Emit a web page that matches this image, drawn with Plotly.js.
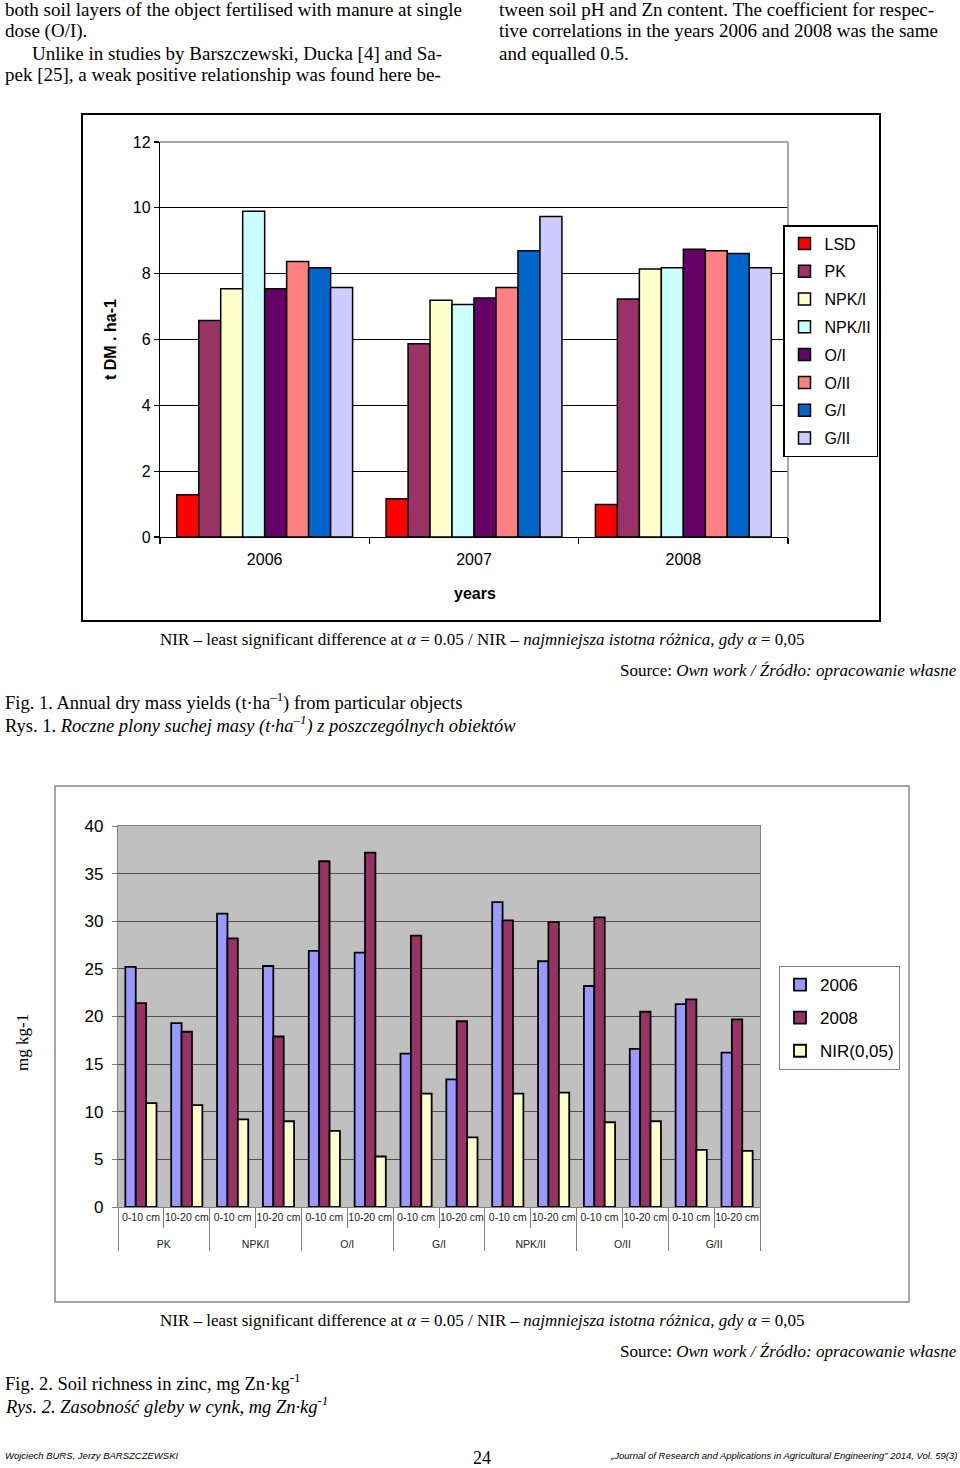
<!DOCTYPE html>
<html>
<head>
<meta charset="utf-8">
<script src="https://cdn.plot.ly/plotly-3.0.1.min.js"></script>
<style>
html,body{margin:0;padding:0;background:#fff;}
#chart{width:960px;height:1468px;}
</style>
</head>
<body>
<div id="chart"></div>
<script>
// ---------- Fig. 1 data ----------
const years = ['2006', '2007', '2008'];
const objects1 = ['LSD', 'PK', 'NPK/I', 'NPK/II', 'O/I', 'O/II', 'G/I', 'G/II'];
const yieldLSD   = [1.28, 1.16, 0.99];
const yieldPK    = [6.58, 5.87, 7.23];
const yieldNPKI  = [7.54, 7.19, 8.14];
const yieldNPKII = [9.90, 7.06, 8.18];
const yieldOI    = [7.54, 7.26, 8.74];
const yieldOII   = [8.37, 7.58, 8.70];
const yieldGI    = [8.18, 8.70, 8.61];
const yieldGII   = [7.58, 9.74, 8.18];
const yieldTicks = [0, 2, 4, 6, 8, 10, 12];

// ---------- Fig. 2 data ----------
const objects2 = ['PK', 'NPK/I', 'O/I', 'G/I', 'NPK/II', 'O/II', 'G/II'];
const layers = ['0-10 cm', '10-20 cm'];
const zn2006 = [25.2, 19.3, 30.8, 25.3, 26.9, 26.7, 16.1, 13.4, 32.0, 25.8, 23.2, 16.6, 21.3, 16.2];
const zn2008 = [21.4, 18.4, 28.2, 17.9, 36.3, 37.2, 28.5, 19.5, 30.1, 29.9, 30.4, 20.5, 21.8, 19.7];
const znNIR  = [10.9, 10.7, 9.2, 9.0, 8.0, 5.3, 11.9, 7.3, 11.9, 12.0, 8.9, 9.0, 6.0, 5.9];
const znSeriesNames = ['2006', '2008', 'NIR(0,05)'];
const znTicks = [0, 5, 10, 15, 20, 25, 30, 35, 40];

// ---------- styles ----------
const W = 960, H = 1468;
const X = p => p / W;
const Y = p => 1 - p / H;
const SANS = 'Liberation Sans, Arial, sans-serif';
const SERIF = 'Liberation Serif, Times New Roman, serif';
const colors1 = ['#FF0000', '#993366', '#FFFFCC', '#CCFFFF', '#660066', '#FF8080', '#0066CC', '#CCCCFF'];
const colors2 = ['#9999FF', '#993366', '#FFFFCC'];

const series1 = [yieldLSD, yieldPK, yieldNPKI, yieldNPKII, yieldOI, yieldOII, yieldGI, yieldGII];
const traces = [];
objects1.forEach((name, i) => {
  traces.push({
    type: 'bar', name: name, x: years, y: series1[i],
    xaxis: 'x', yaxis: 'y', legend: 'legend', legendgroup: 'a' + i,
    marker: {color: colors1[i], line: {color: '#000', width: 1.5}},
    hoverinfo: 'x+y+name'
  });
});

// multicategory x: outer = object, inner = soil layer (an empty 2nd line adds spacing to the outer row)
const xGroups = [], xLayers = [];
objects2.forEach(o => layers.forEach(l => { xGroups.push(o); xLayers.push(l + '<br>\u00a0'); }));
const series2 = [zn2006, zn2008, znNIR];
const groupW = 0.68, bw = groupW / 3;
series2.forEach((vals, i) => {
  traces.push({
    type: 'bar', name: znSeriesNames[i], x: [xGroups, xLayers], y: vals,
    xaxis: 'x2', yaxis: 'y2', legend: 'legend2', legendgroup: 'b' + i,
    width: bw, offset: -groupW / 2 + i * bw,
    marker: {color: colors2[i], line: {color: '#000', width: 1.8}},
    hoverinfo: 'y+name'
  });
});

function ann(text, x, y, opts) {
  return Object.assign({
    text: text, x: X(x), y: Y(y), xref: 'paper', yref: 'paper',
    xanchor: 'left', yanchor: 'middle', showarrow: false,
    font: {family: SERIF, size: 19, color: '#000'}
  }, opts || {});
}

const nirText = 'NIR – least significant difference at <i>α</i> = 0.05 / NIR – <i>najmniejsza istotna różnica, gdy α</i> = 0,05';
const srcText = 'Source: <i>Own work / Źródło: opracowanie własne</i>';
const capFont = {family: SERIF, size: 17, color: '#000'};
const figFont = {family: SERIF, size: 18.5, color: '#000'};

const annotations = [
  ann('both soil layers of the object fertilised with manure at single', 3, 9),
  ann('dose (O/I).', 3, 31),
  ann('Unlike in studies by Barszczewski, Ducka [4] and Sa-', 30, 53),
  ann('pek [25], a weak positive relationship was found here be-', 3, 75),
  ann('tween soil pH and Zn content. The coefficient for respec-', 497, 9),
  ann('tive correlations in the years 2006 and 2008 was the same', 497, 31),
  ann('and equalled 0.5.', 497, 53),
  // Fig 1 axis titles
  ann('<b>t DM . ha-1</b>', 111, 340, {xanchor: 'center', textangle: -90, font: {family: SANS, size: 16, color: '#000'}}),
  ann('<b>years</b>', 475, 593, {xanchor: 'center', font: {family: SANS, size: 16, color: '#000'}}),
  // Fig 1 captions
  ann(nirText, 482, 639, {xanchor: 'center', font: capFont}),
  ann(srcText, 959, 670, {xanchor: 'right', font: capFont}),
  ann('Fig. 1. Annual dry mass yields (t·ha<sup>–1</sup>) from particular objects', 3, 701, {font: figFont}),
  ann('Rys. 1. <i>Roczne plony suchej masy (t·ha<sup>–1</sup>) z poszczególnych obiektów</i>', 3, 724, {font: figFont}),
  // Fig 2 axis title
  ann('mg kg-1', 22, 1043, {xanchor: 'center', textangle: -90, font: {family: SERIF, size: 17, color: '#000'}}),
  // Fig 2 captions
  ann(nirText, 482, 1320, {xanchor: 'center', font: capFont}),
  ann(srcText, 959, 1351, {xanchor: 'right', font: capFont}),
  ann('Fig. 2. Soil richness in zinc, mg Zn·kg<sup>-1</sup>', 3, 1382, {font: figFont}),
  ann('<i>Rys. 2. Zasobność gleby w cynk, mg Zn·kg<sup>-1</sup></i>', 3, 1405, {font: figFont}),
  // footer
  ann('<i>Wojciech BURS, Jerzy BARSZCZEWSKI</i>', 3, 1455, {font: {family: SANS, size: 9.5, color: '#000'}}),
  ann('24', 482, 1458, {xanchor: 'center', font: {family: SERIF, size: 18, color: '#000'}}),
  ann('<i>„Journal of Research and Applications in Agricultural Engineering” 2014, Vol. 59(3)</i>', 959, 1455, {xanchor: 'right', font: {family: SANS, size: 9.5, color: '#000'}})
];

const shapes = [
  // Fig 1 frame
  {type: 'rect', xref: 'paper', yref: 'paper', x0: X(82), x1: X(880), y0: Y(114), y1: Y(621), line: {color: '#000', width: 2}},
  // Fig 1 plot top/right border
  {type: 'line', xref: 'x domain', yref: 'y domain', x0: 0, x1: 1, y0: 1, y1: 1, line: {color: '#8c8c8c', width: 1.5}, layer: 'above'},
  {type: 'line', xref: 'x domain', yref: 'y domain', x0: 1, x1: 1, y0: 0, y1: 1, line: {color: '#8c8c8c', width: 1.5}, layer: 'above'},
  // Fig 2 frame
  {type: 'rect', xref: 'paper', yref: 'paper', x0: X(55), x1: X(909), y0: Y(786), y1: Y(1302), line: {color: '#8c8c8c', width: 1.5}},
  // Fig 2 grey plot background
  {type: 'rect', xref: 'x2 domain', yref: 'y2 domain', x0: 0, x1: 1, y0: 0, y1: 1, fillcolor: '#C0C0C0', line: {width: 0}, layer: 'below'}
];

const layout = {
  width: W, height: H,
  margin: {l: 0, r: 0, t: 0, b: 0},
  paper_bgcolor: '#fff', plot_bgcolor: 'rgba(0,0,0,0)',
  barmode: 'group', bargap: 0.16, bargroupgap: 0,
  showlegend: true,
  font: {family: SANS, color: '#000'},
  xaxis: {
    domain: [X(160), X(788)], anchor: 'y', type: 'category',
    showline: true, linecolor: '#000', linewidth: 1.2,
    ticks: 'outside', tickson: 'boundaries', ticklen: 6, tickcolor: '#000', tickwidth: 1.2,
    ticklabelstandoff: 8,
    tickfont: {family: SANS, size: 16, color: '#000'}, showgrid: false, fixedrange: true
  },
  yaxis: {
    domain: [Y(537), Y(142)], anchor: 'x', range: [0, 12],
    tickmode: 'array', tickvals: yieldTicks, ticktext: yieldTicks.map(String),
    showline: true, linecolor: '#000', linewidth: 1.2,
    ticks: 'outside', ticklen: 5, tickcolor: '#000', tickwidth: 1.2,
    gridcolor: '#000', gridwidth: 1.2, zeroline: false,
    tickfont: {family: SANS, size: 16, color: '#000'}, fixedrange: true
  },
  xaxis2: {
    domain: [X(118), X(760)], anchor: 'y2', type: 'multicategory',
    showline: true, mirror: true, linecolor: '#808080', linewidth: 1.2,
    ticks: 'outside', ticklen: 20, tickcolor: '#808080', tickwidth: 1,
    tickangle: 0,
    showdividers: true, dividercolor: '#808080', dividerwidth: 1,
    tickfont: {family: SANS, size: 10.5, color: '#222'}, showgrid: false, fixedrange: true
  },
  yaxis2: {
    domain: [Y(1207), Y(826)], anchor: 'x2', range: [0, 40],
    tickmode: 'array', tickvals: znTicks, ticktext: znTicks.map(String),
    showline: true, mirror: true, linecolor: '#808080', linewidth: 1.2,
    ticks: 'outside', ticklen: 5, tickcolor: '#808080', tickwidth: 1,
    ticklabelstandoff: 5,
    gridcolor: '#505050', gridwidth: 1, zeroline: false,
    tickfont: {family: SANS, size: 17, color: '#000'}, fixedrange: true
  },
  legend: {
    x: X(783), y: Y(225), xanchor: 'left', yanchor: 'top',
    bgcolor: '#fff', bordercolor: '#000', borderwidth: 1.5,
    font: {family: SANS, size: 16, color: '#000'},
    traceorder: 'grouped', tracegroupgap: 4, itemclick: false, itemdoubleclick: false
  },
  legend2: {
    x: X(779), y: Y(966), xanchor: 'left', yanchor: 'top',
    bgcolor: '#fff', bordercolor: '#808080', borderwidth: 1,
    font: {family: SANS, size: 17, color: '#000'},
    traceorder: 'grouped', tracegroupgap: 8, itemclick: false, itemdoubleclick: false
  },
  annotations: annotations,
  shapes: shapes
};

Plotly.newPlot('chart', traces, layout, {displayModeBar: false, staticPlot: true});
</script>
</body>
</html>
